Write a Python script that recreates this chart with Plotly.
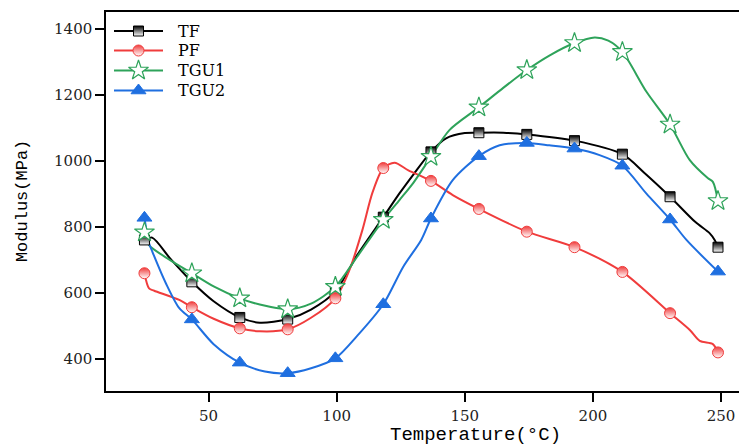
#!/usr/bin/env python3
import plotly.graph_objs as go

# marker positions (deg C), shared by all series
mark_t = [25, 43.5, 62.2, 80.9, 99.5, 118.2, 136.8, 155.5, 174.2, 192.8, 211.5, 230.1, 248.8]

tf_mark = [761, 634, 526, 521, 605, 830, 1028, 1086, 1081, 1062, 1021, 892, 739]
pf_mark = [660, 557, 493, 490, 584, 979, 940, 855, 786, 739, 664, 539, 420]
tgu1_mark = [784, 660, 584, 551, 619, 822, 1013, 1163, 1276, 1358, 1331, 1111, 879]
tgu2_mark = [828, 520, 389, 357, 402, 566, 826, 1015, 1055, 1038, 986, 823, 665]

# curve points
tf_x = [25, 28, 35, 43.5, 52, 62.2, 70, 80.9, 90, 99.5, 108, 118.2, 124.5, 130, 136.8, 142.7,
        150, 155.5, 165, 174.2, 192.8, 211.5, 220, 230.1, 240, 245.6, 247.5, 248.8]
tf_y = [761, 768, 705, 634, 575, 526, 510, 521, 550, 605, 715, 830, 902, 960, 1028, 1069,
        1085, 1086, 1086, 1081, 1062, 1021, 965, 892, 815, 781, 761, 739]

pf_x = [25, 26.8, 28.8, 38.6, 43.5, 52, 62.2, 70, 80.9, 90, 99.5, 105, 110, 114, 118.2,
        122.6, 128, 136.8, 145.3, 155.5, 174.2, 192.8, 211.5, 230.1, 237.8, 241.7, 246.8, 248.8]
pf_y = [660, 614, 607, 579, 557, 522, 493, 484, 490, 525, 584, 670, 790, 905, 979,
        995, 972, 940, 897, 855, 786, 739, 664, 539, 488, 455, 445, 420]

tgu1_x = [25, 26.8, 35, 43.5, 52, 62.2, 70, 80.9, 90, 99.5, 108, 118.2, 124.5, 130, 136.8,
          144, 155.5, 165, 174.2, 183, 192.8, 200.7, 206, 211.5, 220.9, 230.1, 237.8,
          244.9, 246.8, 248.8]
tgu1_y = [784, 745, 700, 660, 620, 584, 565, 551, 568, 619, 710, 822, 882, 935, 1013,
          1094, 1163, 1222, 1276, 1320, 1358, 1375, 1365, 1331, 1210, 1111, 1003,
          948, 937, 879]

tgu2_x = [25, 26.8, 28.1, 33.4, 38.6, 43.5, 52, 62.2, 72, 80.9, 90, 99.5, 108, 118.2, 126,
          133, 136.8, 145.3, 155.5, 163.6, 174.2, 183, 192.8, 202.6, 211.5, 220.8, 230.1,
          236.5, 248.8]
tgu2_y = [828, 751, 725, 629, 554, 520, 445, 389, 362, 357, 372, 402, 470, 566, 680,
          761, 826, 942, 1015, 1048, 1055, 1048, 1038, 1018, 986, 902, 823,
          761, 665]

series = [
    ('TF', tf_x, tf_y, tf_mark, '#000000',
     dict(symbol='square', size=10, color='#000000',
          gradient=dict(type='vertical', color='white'),
          line=dict(color='#000000', width=1))),
    ('PF', pf_x, pf_y, pf_mark, '#f03c3c',
     dict(symbol='circle', size=11, color='#f03c3c',
          gradient=dict(type='vertical', color='white'),
          line=dict(color='#f03c3c', width=1))),
    ('TGU1', tgu1_x, tgu1_y, tgu1_mark, '#2ea35a',
     dict(symbol='star', size=15, color='white',
          line=dict(color='#2ea35a', width=1.2))),
    ('TGU2', tgu2_x, tgu2_y, tgu2_mark, '#1f6fe0',
     dict(symbol='triangle-up', size=13, color='#1f6fe0',
          line=dict(color='#1f6fe0', width=1))),
]

data = []
for name, lx, ly, my, col, mk in series:
    data.append(go.Scatter(x=lx, y=ly, mode='lines', line=dict(color=col, width=2, shape='spline', smoothing=0.8),
                           showlegend=False, hoverinfo='skip'))
for name, lx, ly, my, col, mk in series:
    data.append(go.Scatter(x=mark_t, y=my, mode='markers', marker=mk, showlegend=False, name=name))

# hand-drawn legend on a pixel-scaled overlay axis (tighter rows than plotly's legend)
annotations = []
leg_rows = [31, 50.5, 70.5, 90.5]
for (name, lx, ly, my, col, mk), row in zip(series, leg_rows):
    data.append(go.Scatter(x=[114, 163], y=[row, row], xaxis='x2', yaxis='y2', mode='lines',
                           line=dict(color=col, width=2), showlegend=False, hoverinfo='skip'))
    data.append(go.Scatter(x=[138.5], y=[row], xaxis='x2', yaxis='y2', mode='markers',
                           marker=mk, showlegend=False, hoverinfo='skip'))
    annotations.append(dict(text=name, xref='x2', yref='y2', x=176, y=row, xanchor='left',
                            yanchor='middle', showarrow=False,
                            font=dict(family='DejaVu Serif', size=16, color='black')))

annotations += [
    dict(text='Modulus(MPa)', xref='paper', yref='paper', x=-0.1327, y=0.501, textangle=-90,
         xanchor='center', yanchor='middle', showarrow=False,
         font=dict(family='Liberation Mono', size=17, color='black')),
    dict(text='Temperature(°C)', xref='paper', yref='paper', x=0.583, y=-0.116,
         xanchor='center', yanchor='middle', showarrow=False,
         font=dict(family='Liberation Mono', size=19, color='black')),
]

tickfont = dict(family='DejaVu Serif', size=15, color='#222222')
layout = go.Layout(
    width=739, height=448,
    margin=dict(l=106, r=0, t=12, b=57),
    paper_bgcolor='white', plot_bgcolor='white',
    showlegend=False,
    xaxis=dict(range=[10, 257], tickvals=[50, 100, 150, 200, 250], ticks='outside', ticklen=9,
               tickwidth=1.5, tickcolor='black', showline=True, linecolor='black', linewidth=1.5,
               mirror=True, showgrid=False, zeroline=False, tickfont=tickfont,
               ticklabelstandoff=1),
    yaxis=dict(range=[303, 1452], tickvals=[400, 600, 800, 1000, 1200, 1400], ticks='outside',
               ticklen=9, tickwidth=1.5, tickcolor='black', showline=True, linecolor='black',
               linewidth=1.5, showgrid=False, zeroline=False, tickfont=tickfont),
    xaxis2=dict(range=[106, 739], overlaying='x', visible=False, fixedrange=True),
    yaxis2=dict(range=[391, 12], overlaying='y', visible=False, fixedrange=True),
    annotations=annotations,
)

fig = go.Figure(data=data, layout=layout)
fig.write_html('out.html', config={'displayModeBar': False},
               post_script="document.body.style.margin='0';")
